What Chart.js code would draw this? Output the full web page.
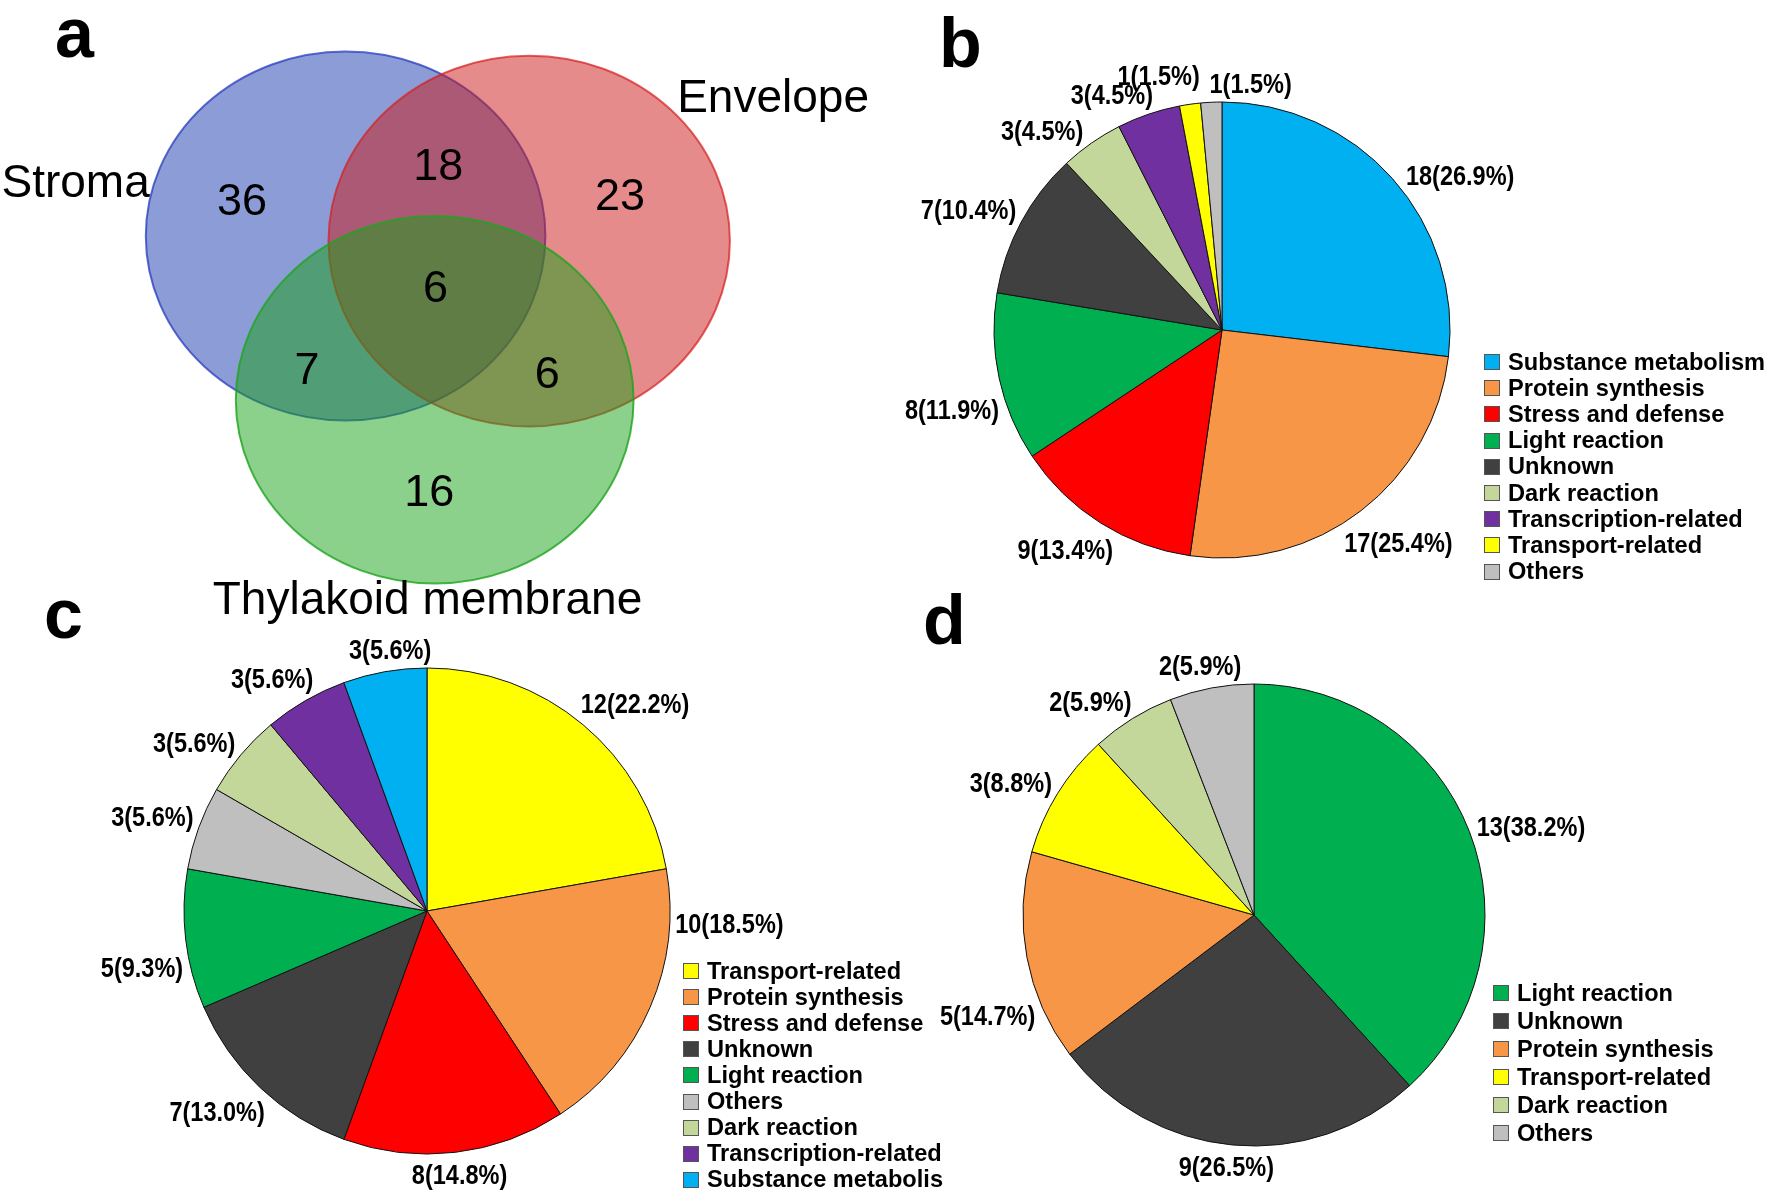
<!DOCTYPE html>
<html>
<head>
<meta charset="utf-8">
<title>Chloroplast proteome: Venn + functional classes</title>
<script src="https://cdn.jsdelivr.net/npm/chart.js@4.4.1/dist/chart.umd.min.js"></script>
<style>
    html, body { margin: 0; padding: 0; background: #fff; }
    body {
        width: 1770px; height: 1193px;
        position: relative; overflow: hidden;
        font-family: "Liberation Sans", Arial, sans-serif;
    }
    canvas { position: absolute; }
    .tag {
        position: absolute; font-weight: bold; font-size: 70px;
        line-height: 1; color: #000;
    }
    .legend {
        position: absolute; font-weight: bold; font-size: 23.6px;
        color: #000; white-space: nowrap; overflow: hidden; z-index: 2;
    }
    .legend .row { display: flex; align-items: center; }
    .legend .box {
        width: 14px; height: 14px; border: 1px solid #555;
        margin-right: 8px; flex: none;
    }
</style>
</head>
<body>

<div class="tag" style="left:55px; top:-2px">a</div>
<div class="tag" style="left:939px; top:8px">b</div>
<div class="tag" style="left:44px; top:579px">c</div>
<div class="tag" style="left:923px; top:585px">d</div>

<canvas id="venn"  width="900" height="640" style="left:0; top:0"></canvas>
<canvas id="pie-b" width="680" height="680" style="left:882px; top:-10px"></canvas>
<canvas id="pie-c" width="720" height="720" style="left:67px; top:551px"></canvas>
<canvas id="pie-d" width="680" height="680" style="left:914px; top:575px"></canvas>

<div class="legend" id="legend-b" style="left:1484px; top:349px"></div>
<div class="legend" id="legend-c" style="left:683px; top:958px; width:260px"></div>
<div class="legend" id="legend-d" style="left:1493px; top:979px"></div>

<script>
'use strict';

// ── Data: panel a (Venn) ──────────────────────────────────────────────────────
const vennSets     = ['Stroma', 'Envelope', 'Thylakoid membrane'];
const vennCx       = [38.4, 58.8, 48.3];
const vennCy       = [48.6, 48.0, 28.9];
const vennR        = [22.2, 22.3, 22.1];
const setLabelX    = [8.4, 85.9, 47.5];
const setLabelY    = [55.3, 65.5, 5.05];

// only S, S∩E, only E, all three, S∩T, E∩T, only T
const regionCounts = [36, 18, 23, 6, 7, 6, 16];
const regionX      = [26.9, 48.7, 68.9, 48.4, 34.1, 60.8, 47.7];
const regionY      = [53.1, 57.3, 53.7, 42.6, 32.7, 32.2, 18.0];

// ── Data: panel b ─────────────────────────────────────────────────────────────
const catsB = ['Substance metabolism', 'Protein synthesis', 'Stress and defense',
               'Light reaction', 'Unknown', 'Dark reaction',
               'Transcription-related', 'Transport-related', 'Others'];
const valsB = [18, 17, 9, 8, 7, 3, 3, 1, 1];

// ── Data: panel c ─────────────────────────────────────────────────────────────
const catsC = ['Transport-related', 'Protein synthesis', 'Stress and defense',
               'Unknown', 'Light reaction', 'Others', 'Dark reaction',
               'Transcription-related', 'Substance metabolism'];
const valsC = [12, 10, 8, 7, 5, 3, 3, 3, 3];

// ── Data: panel d ─────────────────────────────────────────────────────────────
const catsD = ['Light reaction', 'Unknown', 'Protein synthesis',
               'Transport-related', 'Dark reaction', 'Others'];
const valsD = [13, 9, 5, 3, 2, 2];

// ── Styles ────────────────────────────────────────────────────────────────────
const FONT = '"Liberation Sans", Arial, sans-serif';

const PALETTE = {
    'Substance metabolism':  '#00B0F0',
    'Protein synthesis':     '#F79646',
    'Stress and defense':    '#FF0000',
    'Light reaction':        '#00B050',
    'Unknown':               '#404040',
    'Dark reaction':         '#C4D79B',
    'Transcription-related': '#7030A0',
    'Transport-related':     '#FFFF00',
    'Others':                '#BFBFBF'
};

const VENN_FILL = ['rgba(23,57,173,0.5)', 'rgba(205,23,23,0.5)', 'rgba(23,161,23,0.5)'];
const VENN_EDGE = ['rgba(40,60,190,0.75)', 'rgba(215,30,30,0.7)', 'rgba(30,165,30,0.8)'];

// pie labels are a condensed bold face: bold sans squeezed horizontally
const LABEL_SIZE    = 28;
const LABEL_SQUEEZE = 0.84;

// label nudges (degrees) and extra push-out (px) so crowded labels don't collide
const NUDGE_B = [8.5, -2.1, 3.3, -4.2, -2.7, -7.1, -6.2, -5.9, 9.3];
const LIFT_B  = [0, 0, 0, 0, 0, 0, 0, 9, 0];
const NUDGE_C = [5, -21, -0.4, 3, -4.5, -1, -4, -3.6, 2];
const NUDGE_D = [3.3, 1, -10, -3, -5.6, -1.6];

// draw text with its cap-height centred on y
function centredText(ctx, text, x, y, size, squeeze = 1) {
    ctx.save();
    ctx.translate(x, y + size * 0.358);
    ctx.scale(squeeze, 1);
    ctx.textAlign = 'center';
    ctx.textBaseline = 'alphabetic';
    ctx.fillText(text, 0, 0);
    ctx.restore();
}

// ── Venn plugin: circles in data units, counts at region points ───────────────
const vennPlugin = {
    id: 'venn',
    beforeDatasetsDraw(chart) {
        const { ctx, scales: { x, y } } = chart;
        vennSets.forEach((_, i) => {
            const px = x.getPixelForValue(vennCx[i]);
            const py = y.getPixelForValue(vennCy[i]);
            const rx = x.getPixelForValue(vennCx[i] + vennR[i]) - px;
            const ry = py - y.getPixelForValue(vennCy[i] + vennR[i]);
            ctx.save();
            ctx.beginPath();
            ctx.ellipse(px, py, rx, ry, 0, 0, Math.PI * 2);
            ctx.fillStyle = VENN_FILL[i];
            ctx.fill();
            ctx.lineWidth = 2;
            ctx.strokeStyle = VENN_EDGE[i];
            ctx.stroke();
            ctx.restore();
        });
    },
    afterDatasetsDraw(chart) {
        const { ctx, scales: { x, y } } = chart;
        ctx.save();
        ctx.fillStyle = '#000';
        ctx.font = `45px ${FONT}`;
        chart.getDatasetMeta(0).data.forEach((pt, i) => {
            centredText(ctx, String(regionCounts[i]), pt.x, pt.y, 45);
        });
        ctx.font = `46px ${FONT}`;
        vennSets.forEach((name, i) => {
            centredText(ctx, name, x.getPixelForValue(setLabelX[i]), y.getPixelForValue(setLabelY[i]), 46);
        });
        ctx.restore();
    }
};

new Chart(document.getElementById('venn'), {
    type: 'scatter',
    data: {
        datasets: [{
            data: regionX.map((x, i) => ({ x, y: regionY[i] })),
            pointRadius: 0
        }]
    },
    options: {
        responsive: false,
        animation: false,
        events: [],
        layout: { padding: 0 },
        scales: {
            x: { type: 'linear', min: 0, max: 100, display: false },
            y: { type: 'linear', min: 0, max: 77,  display: false }
        },
        plugins: { legend: { display: false }, tooltip: { enabled: false } }
    },
    plugins: [vennPlugin]
});

// ── Pie labels: "n(p%)" just outside each slice ───────────────────────────────
const pieLabelPlugin = {
    id: 'pieLabels',
    afterDatasetsDraw(chart, args, opts) {
        const { ctx } = chart;
        const values = chart.data.datasets[0].data;
        const total  = values.reduce((a, b) => a + b, 0);
        const nudges = opts.nudges || [];
        const lifts  = opts.lifts || [];
        ctx.save();
        ctx.font = `bold ${LABEL_SIZE}px ${FONT}`;
        ctx.fillStyle = '#000';
        chart.getDatasetMeta(0).data.forEach((arc, i) => {
            const v    = values[i];
            const text = `${v}(${(v / total * 100).toFixed(1)}%)`;
            const a    = (arc.startAngle + arc.endAngle) / 2 + (nudges[i] || 0) * Math.PI / 180;
            const cos  = Math.cos(a), sin = Math.sin(a);
            const hw   = ctx.measureText(text).width * LABEL_SQUEEZE / 2, hh = 11;
            const d    = arc.outerRadius + 5 + (lifts[i] || 0)
                       + hw * Math.abs(cos) + hh * Math.abs(sin);
            centredText(ctx, text, arc.x + d * cos, arc.y + d * sin, LABEL_SIZE, LABEL_SQUEEZE);
        });
        ctx.restore();
    }
};

function buildPie(canvasId, cats, vals, radius, nudges, lifts) {
    new Chart(document.getElementById(canvasId), {
        type: 'pie',
        data: {
            labels: cats,
            datasets: [{
                data: vals,
                backgroundColor: cats.map(c => PALETTE[c]),
                borderColor: '#111',
                borderWidth: 1
            }]
        },
        options: {
            responsive: false,
            animation: false,
            events: [],
            radius: radius,
            layout: { padding: 0 },
            plugins: {
                legend: { display: false },
                tooltip: { enabled: false },
                pieLabels: { nudges, lifts }
            }
        },
        plugins: [pieLabelPlugin]
    });
}

function buildLegend(elId, cats, rowH) {
    document.getElementById(elId).innerHTML = cats.map(c => `
        <div class="row" style="height:${rowH}px">
            <span class="box" style="background:${PALETTE[c]}"></span>
            <span>${c}</span>
        </div>`).join('');
}

buildPie('pie-b', catsB, valsB, 228, NUDGE_B, LIFT_B);
buildPie('pie-c', catsC, valsC, 243, NUDGE_C);
buildPie('pie-d', catsD, valsD, 231, NUDGE_D);

buildLegend('legend-b', catsB, 26.2);
buildLegend('legend-c', catsC, 26.1);
buildLegend('legend-d', catsD, 28);
</script>
</body>
</html>
